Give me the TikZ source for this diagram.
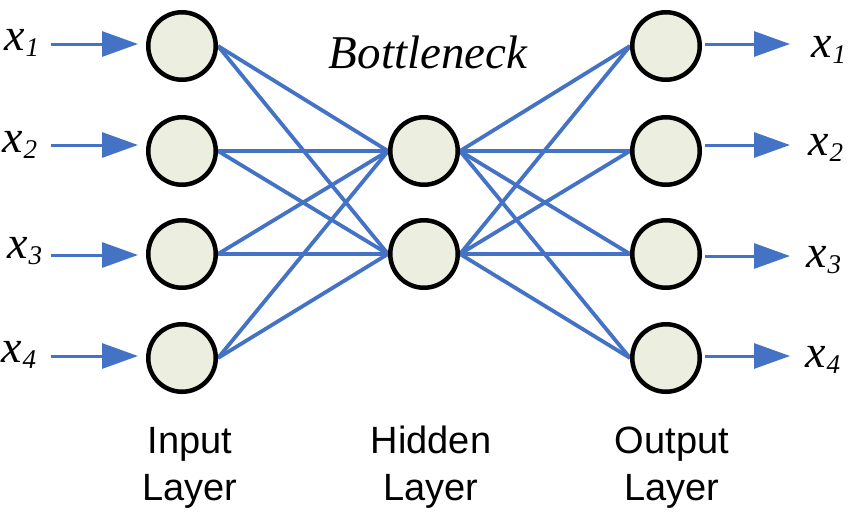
\documentclass[tikz,border=0pt]{standalone}
\usepackage{fontspec}
\setmainfont{Liberation Serif}
\setsansfont{Liberation Sans}
\usetikzlibrary{arrows.meta}
\definecolor{lblue}{RGB}{68,114,196}
\definecolor{nfill}{RGB}{236,238,224}
\newcommand\xsub[1]{x\kern1pt\raisebox{-6pt}{\fontsize{27}{27}\selectfont #1}}
\pgfdeclarelayer{linklayer}
\pgfsetlayers{linklayer,main}
\begin{document}
\begin{tikzpicture}[x=1pt,y=-1pt,
  neuron/.style={circle,draw=black,line width=4.5pt,fill=nfill,minimum size=67.5pt,inner sep=0pt},
  link/.style={draw=lblue,line width=3.8pt},
  io/.style={draw=lblue,line width=3pt,-{Triangle[length=36pt,width=25pt]}},
  varlbl/.style={anchor=base west,inner sep=0pt,font=\fontsize{46}{46}\selectfont\itshape},
  laylbl/.style={anchor=base,align=center,inner sep=0pt,font=\fontsize{38}{47}\selectfont\sffamily}]
\useasboundingbox (0,0) rectangle (850,512);

% input layer
\node[neuron] (i1) at (182,46) {};
\node[neuron] (i2) at (182,151) {};
\node[neuron] (i3) at (182,254) {};
\node[neuron] (i4) at (182,358) {};
% hidden layer
\node[neuron] (h1) at (424,151) {};
\node[neuron] (h2) at (424,254) {};
% output layer
\node[neuron] (o1) at (666,46) {};
\node[neuron] (o2) at (666,151) {};
\node[neuron] (o3) at (666,254) {};
\node[neuron] (o4) at (666,358) {};

% connections
\begin{pgfonlayer}{linklayer}
\foreach \i in {1,2,3,4}{
  \foreach \h in {1,2}{
    \draw[link] (i\i.east) -- (h\h.west);
    \draw[link] (h\h.east) -- (o\i.west);
  }
}
\end{pgfonlayer}

% input arrows
\coordinate (a1) at (51,44);
\coordinate (a2) at (51,145);
\coordinate (a3) at (51,255);
\coordinate (a4) at (51,356);
\draw[io,shorten >=8pt] (a1) -- (a1 -| i1.west);
\draw[io,shorten >=8pt] (a2) -- (a2 -| i2.west);
\draw[io,shorten >=8pt] (a3) -- (a3 -| i3.west);
\draw[io,shorten >=8pt] (a4) -- (a4 -| i4.west);

% output arrows
\coordinate (b1) at (790,44);
\coordinate (b2) at (790,145);
\coordinate (b3) at (790,256);
\coordinate (b4) at (790,356);
\draw[io,shorten <=3pt] (b1 -| o1.east) -- (b1);
\draw[io,shorten <=3pt] (b2 -| o2.east) -- (b2);
\draw[io,shorten <=3pt] (b3 -| o3.east) -- (b3);
\draw[io,shorten <=3pt] (b4 -| o4.east) -- (b4);

% variable labels
\node[varlbl] (l1) at (4,50) {\xsub{1}};
\node[varlbl] (l2) at (2,152) {\xsub{2}};
\node[varlbl] (l3) at (7,258) {\xsub{3}};
\node[varlbl] (l4) at (1,362) {\xsub{4}};
\node[varlbl] (r1) at (811,57) {\xsub{1}};
\node[varlbl] (r2) at (808,155) {\xsub{2}};
\node[varlbl] (r3) at (806,267) {\xsub{3}};
\node[varlbl] (r4) at (805,367) {\xsub{4}};

% titles
\node[anchor=base,inner sep=0pt,font=\fontsize{47}{47}\selectfont\itshape] (bn) at (428,68) {Bottleneck};
\node[laylbl] (li) at (190,500) {Input\\Layer};
\node[laylbl] (lh) at (431,500) {Hidden\\Layer};
\node[laylbl] (lo) at (672,500) {Output\\Layer};
\end{tikzpicture}
\end{document}
